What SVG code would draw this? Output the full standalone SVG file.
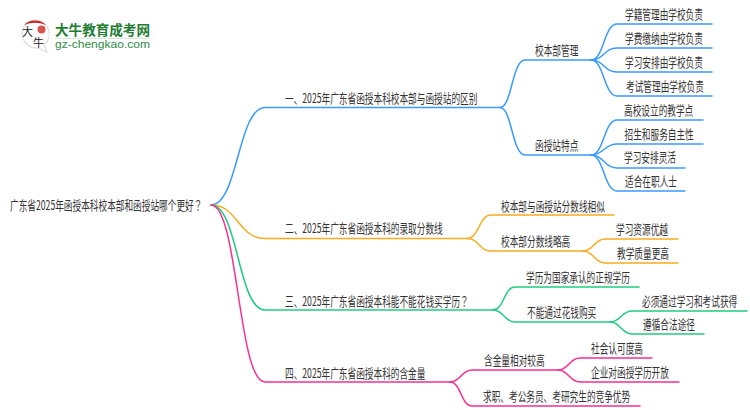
<svg xmlns="http://www.w3.org/2000/svg" width="750" height="410" viewBox="0 0 750 410">
<style>
text{font-family:"Noto Sans CJK SC","Liberation Sans",sans-serif;font-size:13px;fill:#333;}
.t{transform:scale(.667,1);}
.q{font-family:"Noto Sans CJK TC",sans-serif;}
.c{fill:none;stroke-width:1.5;stroke-linecap:round;}
.b{stroke:#3a9bff;}.o{stroke:#f9ab1f;}.g{stroke:#20cc80;}.p{stroke:#fb2f8d;}
.l1{fill:#1e7d32;font-size:13.5px;font-weight:700;}
.l2{fill:#2e8b45;font-family:"Liberation Sans",sans-serif;font-size:11px;}
</style>
<rect width="750" height="410" fill="#fff"/>
<g id="logo">
<path d="M35,20 a14,14 0 1 0 3,28 l9,4 l-3,-7 a14,14 0 0 0 -9,-25z" fill="#fff" stroke="#ddd" stroke-width="1.200"/>
<path d="M24,25 a16,16 0 0 1 22,0 a30,30 0 0 0 -22,0z" fill="#c8201c"/>
<circle cx="41.500" cy="29.500" r="4" fill="#d8554f"/>
<text x="22" y="36" style="font-size:11px;fill:#222">大</text>
<text x="33" y="47" style="font-size:11px;fill:#222">牛</text>
<text class="l1" x="55" y="35" textLength="95" lengthAdjust="spacingAndGlyphs">大牛教育成考网</text>
<rect x="55" y="38" width="95" height="1" fill="#dde8dd"/>
<text class="l2" x="55" y="48" textLength="95" lengthAdjust="spacingAndGlyphs">gz-chengkao.com</text>
</g>
<g id="connectors">
<path class="c b" d="M211,205C238,205 238,107.500 265,107.500H500"/>
<path class="c b" d="M500,107.500C512,107.500 512,60 525,60H591"/>
<path class="c b" d="M500,107.500C512,107.500 512,155 525,155H591"/>
<path class="c b" d="M591,60C604,60 604,24 617,24H712"/>
<path class="c b" d="M591,60C604,60 604,48 617,48H712"/>
<path class="c b" d="M591,60C604,60 604,72 617,72H712"/>
<path class="c b" d="M591,60C604,60 604,96 617,96H712"/>
<path class="c b" d="M591,155C604,155 604,120 617,120H703"/>
<path class="c b" d="M591,155C604,155 604,144 617,144H703"/>
<path class="c b" d="M591,155C604,155 604,168 617,168H685"/>
<path class="c b" d="M591,155C604,155 604,191 617,191H685"/>
<path class="c o" d="M211,205C238,205 238,238.500 265,238.500H467"/>
<path class="c o" d="M467,238.500C479,238.500 479,215 491,215H614"/>
<path class="c o" d="M467,238.500C479,238.500 479,251 491,251H583"/>
<path class="c o" d="M583,251C594,251 594,239 605,239H678"/>
<path class="c o" d="M583,251C594,251 594,263 605,263H678"/>
<path class="c g" d="M211,205C238,205 238,310 265,310H493"/>
<path class="c g" d="M493,310C504,310 504,287 515,287H639"/>
<path class="c g" d="M493,310C504,310 504,322 515,322H610"/>
<path class="c g" d="M610,322C621,322 621,311 632,311H747"/>
<path class="c g" d="M610,322C621,322 621,334 632,334H704"/>
<path class="c p" d="M211,205C238,205 238,382 265,382H450"/>
<path class="c p" d="M450,382C461,382 461,370 472,370H558"/>
<path class="c p" d="M450,382C461,382 461,406 472,406H640"/>
<path class="c p" d="M558,370C569,370 569,358 580,358H652"/>
<path class="c p" d="M558,370C569,370 569,382 580,382H679"/>
</g>
<g id="root" transform="translate(10 210)"><text class="t">广东省2025年函授本科校本部和函授站哪个更好<tspan class="q">？</tspan></text></g>
<g id="n1" transform="translate(285 103)"><text class="t">一、2025年广东省函授本科校本部与函授站的区别</text></g>
<g id="n1-1" transform="translate(535 55)"><text class="t">校本部管理</text></g>
<g id="n1-1-1" transform="translate(625 19)"><text class="t">学籍管理由学校负责</text></g>
<g id="n1-1-2" transform="translate(625 43)"><text class="t">学费缴纳由学校负责</text></g>
<g id="n1-1-3" transform="translate(625 67)"><text class="t">学习安排由学校负责</text></g>
<g id="n1-1-4" transform="translate(626 91)"><text class="t">考试管理由学校负责</text></g>
<g id="n1-2" transform="translate(535 150)"><text class="t">函授站特点</text></g>
<g id="n1-2-1" transform="translate(624 115)"><text class="t">高校设立的教学点</text></g>
<g id="n1-2-2" transform="translate(624.500 139)"><text class="t">招生和服务自主性</text></g>
<g id="n1-2-3" transform="translate(624 162)"><text class="t">学习安排灵活</text></g>
<g id="n1-2-4" transform="translate(625 186)"><text class="t">适合在职人士</text></g>
<g id="n2" transform="translate(285 233)"><text class="t">二、2025年广东省函授本科的录取分数线</text></g>
<g id="n2-1" transform="translate(501 211)"><text class="t">校本部与函授站分数线相似</text></g>
<g id="n2-2" transform="translate(501 246)"><text class="t">校本部分数线略高</text></g>
<g id="n2-2-1" transform="translate(616 234)"><text class="t">学习资源优越</text></g>
<g id="n2-2-2" transform="translate(617 258)"><text class="t">教学质量更高</text></g>
<g id="n3" transform="translate(285 306)"><text class="t">三、2025年广东省函授本科能不能花钱买学历<tspan class="q">？</tspan></text></g>
<g id="n3-1" transform="translate(526 282)"><text class="t">学历为国家承认的正规学历</text></g>
<g id="n3-2" transform="translate(527 317)"><text class="t">不能通过花钱购买</text></g>
<g id="n3-2-1" transform="translate(642 306)"><text class="t">必须通过学习和考试获得</text></g>
<g id="n3-2-2" transform="translate(643 329)"><text class="t">遵循合法途径</text></g>
<g id="n4" transform="translate(285 378)"><text class="t">四、2025年广东省函授本科的含金量</text></g>
<g id="n4-1" transform="translate(484 365)"><text class="t">含金量相对较高</text></g>
<g id="n4-1-1" transform="translate(591 353)"><text class="t">社会认可度高</text></g>
<g id="n4-1-2" transform="translate(591 377)"><text class="t">企业对函授学历开放</text></g>
<g id="n4-2" transform="translate(483 401)"><text class="t">求职、考公务员、考研究生的竞争优势</text></g>
</svg>
